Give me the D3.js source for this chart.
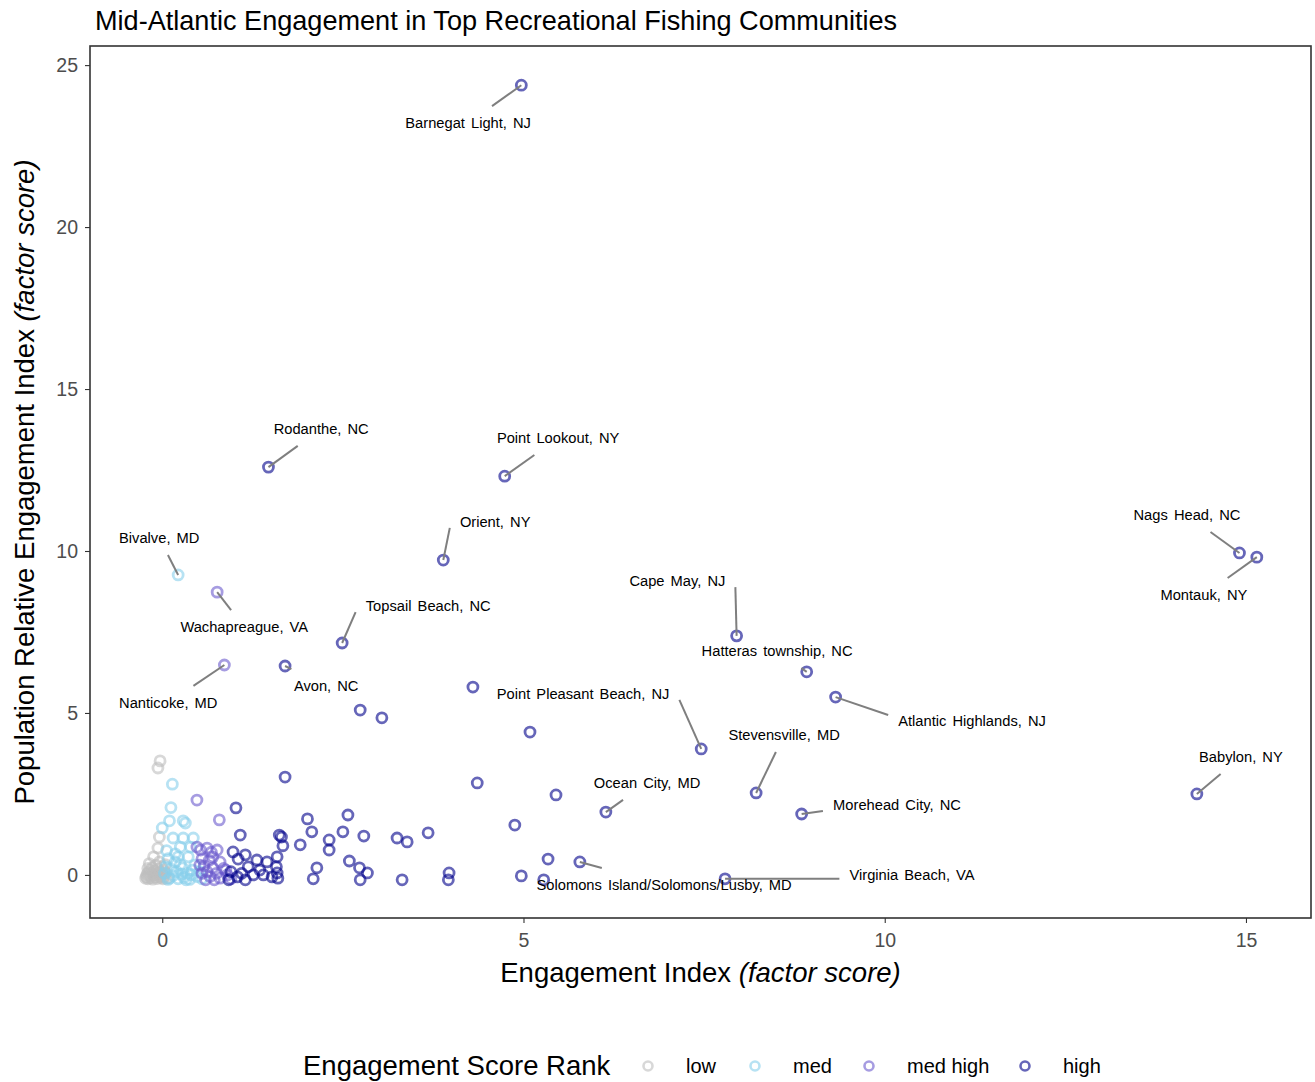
<!DOCTYPE html>
<html>
<head>
<meta charset="utf-8">
<script src="https://cdn.jsdelivr.net/npm/d3@7"></script>
<style>
  body { margin: 0; background: #fff; }
  svg { display: block; font-family: "Liberation Sans", Arial, Helvetica, sans-serif; }
</style>
</head>
<body>
<svg id="chart" width="1315" height="1082"></svg>
<script>
// Engagement score rank levels and their colours
const rankLevels = ["low", "med", "med high", "high"];
const rankColors = ["#bebebe", "#87ceeb", "#6a5acd", "#00008b"];

// Unlabelled communities by rank: [engagement index, population relative engagement index]
const lowPoints = [
  [-0.23, -0.10], [-0.22, -0.05], [-0.21, 0.02], [-0.20, -0.12], [-0.19, 0.08], [-0.18, -0.02],
  [-0.17, 0.15], [-0.16, -0.09], [-0.15, 0.05], [-0.14, 0.22], [-0.13, -0.13], [-0.12, 0.00],
  [-0.11, 0.12], [-0.10, -0.06], [-0.09, 0.30], [-0.08, 0.04], [-0.07, -0.11], [-0.06, 0.18],
  [-0.05, -0.02], [-0.04, 0.40], [-0.03, 0.09], [-0.02, -0.08], [-0.01, 0.25], [0.00, 0.01],
  [0.01, -0.12], [0.02, 0.14], [0.03, -0.04], [0.05, 0.06], [0.06, -0.10], [-0.12, 0.56],
  [-0.06, 0.83], [-0.04, 1.17], [-0.03, 3.52], [-0.06, 3.30], [-0.18, 0.35], [0.04, 0.32],
  [-0.20, 0.20]
];
const medPoints = [
  [0.14, 2.80], [0.12, 2.08], [0.10, 1.67], [0.29, 1.67], [0.32, 1.60], [0.00, 1.45],
  [0.15, 1.14], [0.29, 1.14], [0.43, 1.14], [0.25, 0.86], [0.39, 0.86], [0.36, 0.56],
  [0.08, 0.50], [0.18, 0.40], [0.05, 0.25], [0.12, 0.18], [0.20, 0.10], [0.28, 0.22],
  [0.35, 0.05], [0.42, 0.15], [0.48, -0.05], [0.10, -0.10], [0.15, -0.02], [0.22, -0.12],
  [0.30, -0.08], [0.38, -0.14], [0.45, 0.30], [0.03, 0.05], [0.08, -0.14], [0.25, 0.32],
  [0.33, -0.15], [0.40, 0.00], [0.52, 0.10], [0.18, 0.65], [0.06, 0.75], [0.55, -0.12],
  [0.27, 0.02], [0.22, 0.56]
];
const medHighPoints = [
  [0.48, 2.31], [0.79, 1.70], [0.48, 0.86], [0.62, 0.83], [0.76, 0.77], [0.53, 0.77],
  [0.68, 0.70], [0.55, 0.50], [0.65, 0.45], [0.80, 0.40], [0.58, 0.28], [0.70, 0.22],
  [0.85, 0.20], [0.62, 0.10], [0.75, 0.05], [0.90, 0.00], [0.55, 0.05], [0.66, -0.05],
  [0.80, -0.10], [0.95, -0.12], [0.60, -0.15], [0.72, -0.15], [0.52, 0.30], [0.88, 0.15],
  [0.70, 0.55]
];
const highPoints = [
  [4.30, 5.80], [2.74, 5.09], [3.04, 4.85], [5.09, 4.41], [4.36, 2.84], [5.45, 2.47],
  [4.88, 1.54], [5.34, 0.49], [4.97, -0.03], [5.28, -0.15], [3.97, 0.06], [3.96, -0.15],
  [3.32, -0.15], [3.68, 1.30], [3.25, 1.14], [3.39, 1.02], [2.57, 1.85], [2.50, 1.33],
  [2.79, 1.20], [2.31, 1.08], [2.31, 0.77], [2.59, 0.43], [2.73, 0.22], [2.84, 0.06],
  [2.74, -0.15], [2.01, 1.73], [2.07, 1.33], [1.91, 0.93], [2.14, 0.22], [2.09, -0.12],
  [1.70, 3.02], [1.02, 2.07], [1.08, 1.23], [1.62, 1.23], [1.65, 1.17], [1.67, 0.90],
  [0.98, 0.71], [1.15, 0.62], [1.05, 0.49], [1.31, 0.46], [1.45, 0.40], [1.59, 0.56],
  [1.58, 0.25], [1.59, 0.06], [1.19, 0.25], [1.40, 0.00], [1.04, -0.06], [1.15, -0.15],
  [1.26, 0.00], [1.52, -0.06], [0.95, 0.10], [1.10, 0.05], [0.92, -0.15], [1.60, -0.10],
  [1.35, 0.15]
];

// Named communities
const communityNames = [
  "Barnegat Light, NJ", "Rodanthe, NC", "Point Lookout, NY", "Orient, NY", "Bivalve, MD",
  "Wachapreague, VA", "Topsail Beach, NC", "Nanticoke, MD", "Avon, NC", "Cape May, NJ",
  "Hatteras township, NC", "Atlantic Highlands, NJ", "Point Pleasant Beach, NJ", "Stevensville, MD",
  "Ocean City, MD", "Morehead City, NC", "Virginia Beach, VA", "Solomons Island/Solomons/Lusby, MD",
  "Nags Head, NC", "Montauk, NY", "Babylon, NY"
];
const communityX = [4.97, 1.47, 4.74, 3.89, 0.22, 0.76, 2.49, 0.86, 1.70, 7.95,
  8.92, 9.32, 7.46, 8.22, 6.14, 8.85, 7.79, 5.78, 14.91, 15.15, 14.32];
const communityY = [24.38, 12.59, 12.31, 9.72, 9.26, 8.73, 7.16, 6.48, 6.45, 7.38,
  6.27, 5.49, 3.89, 2.53, 1.94, 1.88, -0.12, 0.40, 9.94, 9.81, 2.50];
const communityRank = ["high", "high", "high", "high", "med", "med high", "high", "med high", "high", "high",
  "high", "high", "high", "high", "high", "high", "high", "high", "high", "high", "high"];
// Where each name tag sits, in data units (repelled away from its point)
const labelX = [4.234, 2.200, 5.479, 4.608, -0.042, 1.135, 3.681, 0.083, 2.269, 7.130,
  8.510, 11.208, 5.825, 8.607, 6.711, 10.170, 10.378, 6.946, 14.183, 14.418, 14.930];
const labelY = [23.21, 13.77, 13.49, 10.90, 10.40, 7.65, 8.30, 5.31, 5.83, 9.07,
  6.91, 4.75, 5.59, 4.32, 2.84, 2.16, 0.00, -0.31, 11.11, 8.64, 3.64];

// Axis ticks
const xTicks = [0, 5, 10, 15];
const yTicks = [0, 5, 10, 15, 20, 25];

const svg = d3.select("#chart");
const panel = { left: 90, right: 1311, top: 46, bottom: 918 };

const x = d3.scaleLinear().domain([-1.0, 15.9]).range([panel.left, panel.right]);
const y = d3.scaleLinear().domain([-1.33, 25.59]).range([panel.bottom, panel.top]);
const color = d3.scaleOrdinal().domain(rankLevels).range(rankColors);

// Title
svg.append("text")
  .attr("x", 95).attr("y", 30)
  .attr("font-size", 27.1).attr("fill", "#000")
  .text("Mid-Atlantic Engagement in Top Recreational Fishing Communities");

// Axes
const xAxis = svg.append("g")
  .attr("transform", `translate(0,${panel.bottom})`)
  .call(d3.axisBottom(x).tickValues(xTicks).tickSize(5).tickPadding(10));
const yAxis = svg.append("g")
  .attr("transform", `translate(${panel.left},0)`)
  .call(d3.axisLeft(y).tickValues(yTicks).tickSize(5).tickPadding(7));
[xAxis, yAxis].forEach(g => {
  g.select(".domain").remove();
  g.selectAll(".tick line").attr("stroke", "#333").attr("stroke-width", 1.1);
  g.selectAll(".tick text").attr("fill", "#4d4d4d").attr("font-size", 19.5)
    .attr("font-family", "'Liberation Sans', Arial, sans-serif");
});

// Panel border
svg.append("rect")
  .attr("x", panel.left).attr("y", panel.top)
  .attr("width", panel.right - panel.left).attr("height", panel.bottom - panel.top)
  .attr("fill", "none").attr("stroke", "#333").attr("stroke-width", 1.6);

// Points
const allPoints = [];
lowPoints.forEach(p => allPoints.push({ x: p[0], y: p[1], rank: "low" }));
medPoints.forEach(p => allPoints.push({ x: p[0], y: p[1], rank: "med" }));
medHighPoints.forEach(p => allPoints.push({ x: p[0], y: p[1], rank: "med high" }));
highPoints.forEach(p => allPoints.push({ x: p[0], y: p[1], rank: "high" }));
communityNames.forEach((n, i) => allPoints.push({ x: communityX[i], y: communityY[i], rank: communityRank[i] }));
const rankOrder = d3.scaleOrdinal().domain(rankLevels).range([0, 1, 2, 3]);
allPoints.sort((a, b) => rankOrder(a.rank) - rankOrder(b.rank));

svg.append("g").selectAll("circle")
  .data(allPoints).join("circle")
  .attr("cx", d => x(d.x)).attr("cy", d => y(d.y)).attr("r", 5)
  .attr("fill", "none")
  .attr("stroke", d => color(d.rank))
  .attr("stroke-opacity", 0.6)
  .attr("stroke-width", 2.8);

// Name tags with leader segments
const labelG = svg.append("g");
const labels = communityNames.map((n, i) => ({
  name: n, px: x(communityX[i]), py: y(communityY[i]), lx: x(labelX[i]), ly: y(labelY[i])
}));
const texts = labelG.selectAll("text.lab").data(labels).join("text")
  .attr("class", "lab")
  .attr("x", d => d.lx).attr("y", d => d.ly)
  .attr("text-anchor", "middle").attr("dy", "0.35em")
  .attr("font-size", 14.7).attr("fill", "#000")
  .style("word-spacing", "2px")
  .text(d => d.name);

// Segment attaches where the centre-to-point line leaves the tag box when the
// point lies within the tag's horizontal span; otherwise at the nearest box edge.
const padX = 10, padY = 10, halfText = 7, sideHalf = 6;
texts.each(function (d) {
  const bb = this.getBBox();
  const hw = bb.width / 2 + padX;
  const dx = d.px - d.lx, dy = d.py - d.ly;
  let sx, sy;
  if (Math.abs(dx) <= hw) {
    const hh = halfText + padY;
    if (Math.abs(dy) <= hh) return;
    const tx = dx !== 0 ? hw / Math.abs(dx) : Infinity;
    const ty = hh / Math.abs(dy);
    const t = Math.min(tx, ty);
    sx = d.lx + dx * t; sy = d.ly + dy * t;
  } else {
    sx = d.lx + Math.sign(dx) * hw;
    sy = d.ly + Math.max(-sideHalf, Math.min(sideHalf, dy));
  }
  labelG.insert("line", "text")
    .attr("x1", sx).attr("y1", sy)
    .attr("x2", d.px).attr("y2", d.py)
    .attr("stroke", "#7f7f7f").attr("stroke-width", 2);
});

// Axis titles
const xTitle = svg.append("text")
  .attr("x", (panel.left + panel.right) / 2).attr("y", 982)
  .attr("text-anchor", "middle").attr("font-size", 27.5);
xTitle.append("tspan").text("Engagement Index ");
xTitle.append("tspan").attr("font-style", "italic").text("(factor score)");

const yTitle = svg.append("text")
  .attr("transform", `translate(34,${(panel.top + panel.bottom) / 2}) rotate(-90)`)
  .attr("text-anchor", "middle").attr("font-size", 27.5);
yTitle.append("tspan").text("Population Relative Engagement Index ");
yTitle.append("tspan").attr("font-style", "italic").text("(factor score)");

// Legend
const legend = svg.append("g");
legend.append("text").attr("x", 303).attr("y", 1075).attr("font-size", 27.5)
  .text("Engagement Score Rank");
const legendSymbolX = [648, 755, 869, 1025];
rankLevels.forEach((r, i) => {
  legend.append("circle")
    .attr("cx", legendSymbolX[i]).attr("cy", 1066).attr("r", 4.5)
    .attr("fill", "none").attr("stroke", color(r))
    .attr("stroke-opacity", 0.6).attr("stroke-width", 2.6);
  legend.append("text")
    .attr("x", legendSymbolX[i] + 38).attr("y", 1073)
    .attr("font-size", 20).text(r);
});
</script>
</body>
</html>
